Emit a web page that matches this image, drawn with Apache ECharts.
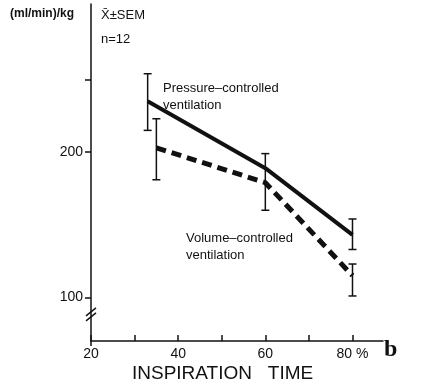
<!DOCTYPE html>
<html><head><meta charset="utf-8">
<script src="https://cdn.jsdelivr.net/npm/echarts@6/dist/echarts.min.js"></script>
<style>html,body{margin:0;padding:0;background:#fff}#c{width:428px;height:389px}</style>
</head><body><div id="c"></div>
<script>
// Data
const pressureX = [33, 60, 80];
const pressureY = [235, 189, 143];
const volumeX = [35, 60, 80];
const volumeY = [203, 179, 115];
// error bars: [x, low, high]
const pressureErr = [[33, 215, 254], [60, 160, 199], [80, 133, 154]];
const volumeErr = [[35, 181, 223], [80, 101, 123]];
const xTickValues = [20, 30, 40, 50, 60, 70, 80];
const xLabelValues = [20, 40, 60, 80];
const yTickValues = [100, 200, 250];
const yLabelValues = [100, 200];

const FONT = '"Liberation Sans", Arial, sans-serif';
const INK = '#111';
const chart = echarts.init(document.getElementById('c'));

function errRender(params, api) {
  const x = api.value(0), lo = api.value(1), hi = api.value(2);
  const pLo = api.coord([x, lo]), pHi = api.coord([x, hi]);
  const w = 4;
  const st = {stroke: INK, lineWidth: 1.5};
  return {type: 'group', children: [
    {type: 'line', shape: {x1: pLo[0], y1: pLo[1], x2: pHi[0], y2: pHi[1]}, style: st},
    {type: 'line', shape: {x1: pLo[0]-w, y1: pLo[1], x2: pLo[0]+w, y2: pLo[1]}, style: st},
    {type: 'line', shape: {x1: pHi[0]-w, y1: pHi[1], x2: pHi[0]+w, y2: pHi[1]}, style: st}
  ]};
}

const option = {
  animation: false,
  backgroundColor: '#fff',
  grid: {left: 91, right: 45, top: 4, bottom: 48, containLabel: false},
  xAxis: {
    type: 'value', min: 20, max: 87,
    axisLine: {lineStyle: {color: INK, width: 1.5}},
    axisTick: {customValues: xTickValues, inside: true, length: 6, lineStyle: {color: INK, width: 1.5}},
    axisLabel: {customValues: xLabelValues, color: INK, fontSize: 14, fontFamily: FONT, margin: 6,
      formatter: v => v === 80 ? '80 %' : String(v)},
    splitLine: {show: false}
  },
  yAxis: {
    type: 'value', min: 70, max: 302,
    axisLine: {show: true, lineStyle: {color: INK, width: 1.5}},
    axisTick: {show: true, customValues: yTickValues, length: 6, lineStyle: {color: INK, width: 1.5}},
    axisLabel: {customValues: yLabelValues, color: INK, fontSize: 14, fontFamily: FONT, margin: 8},
    splitLine: {show: false}
  },
  series: [
    {type: 'line', data: pressureX.map((x, i) => [x, pressureY[i]]), symbol: 'none',
      lineStyle: {color: INK, width: 4}},
    {type: 'line', data: volumeX.map((x, i) => [x, volumeY[i]]), symbol: 'none',
      lineStyle: {color: INK, width: 5, type: [10, 6]}},
    {type: 'custom', renderItem: errRender, data: pressureErr, z: 5},
    {type: 'custom', renderItem: errRender, data: volumeErr, z: 5}
  ]
};
chart.setOption(option);

// axis break marks on y-axis and the lower tick below the x-axis at 20
const p = chart.convertToPixel({gridIndex: 0}, [20, 88]);
const o = chart.convertToPixel({gridIndex: 0}, [20, 70]);
const ax = p[0], ay = p[1];
const ls = {stroke: INK, lineWidth: 1.5};
chart.setOption({graphic: [
  {id: 't1', type: 'text', left: 10, top: 8, style: {text: '(ml/min)/kg', font: 'bold 12px ' + FONT, fill: INK}},
  {id: 't2', type: 'text', left: 101, top: 9, style: {text: 'X\u0304\u00b1SEM', font: '13px ' + FONT, fill: INK}},
  {id: 't3', type: 'text', left: 101, top: 33, style: {text: 'n=12', font: '13px ' + FONT, fill: INK}},
  {id: 't4', type: 'text', left: 163, top: 80, style: {text: 'Pressure\u2013controlled\nventilation', font: '13px ' + FONT, lineHeight: 17, fill: INK}},
  {id: 't5', type: 'text', left: 186, top: 230, style: {text: 'Volume\u2013controlled\nventilation', font: '13px ' + FONT, lineHeight: 17, fill: INK}},
  {id: 't6', type: 'text', left: 132, top: 364, style: {text: 'INSPIRATION   TIME', font: '19px ' + FONT, fill: INK}},
  {id: 't7', type: 'text', left: 384, top: 338, style: {text: 'b', font: 'bold 24px "Liberation Serif", serif', fill: INK}},
  {id: 'b1', type: 'line', shape: {x1: ax - 5, y1: ay + 1, x2: ax + 5, y2: ay - 7}, style: ls},
  {id: 'b2', type: 'line', shape: {x1: ax - 5, y1: ay + 6, x2: ax + 5, y2: ay - 2}, style: ls},
  {id: 'k1', type: 'line', shape: {x1: o[0], y1: o[1], x2: o[0], y2: o[1] + 5}, style: ls}
]});
</script>
</body></html>
